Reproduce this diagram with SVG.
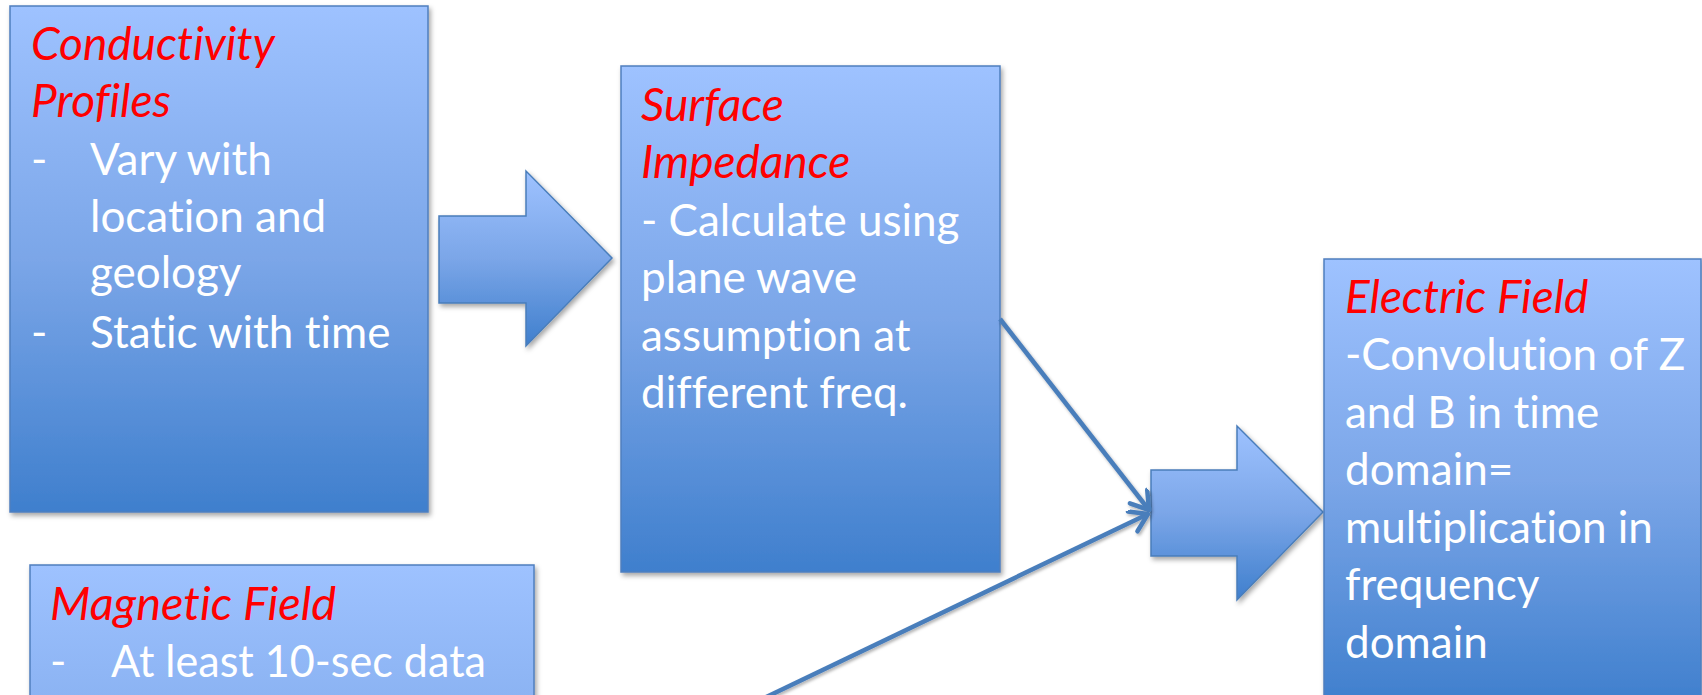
<svg xmlns="http://www.w3.org/2000/svg" width="1702" height="695" viewBox="0 0 1702 695">
  <defs>
    <linearGradient id="blueGrad" x1="0" y1="0" x2="0" y2="1">
      <stop offset="0" stop-color="#9EC2FF"/>
      <stop offset="0.5" stop-color="#7BA6E8"/>
      <stop offset="1" stop-color="#3F7FCD"/>
    </linearGradient>
    <filter id="shadow" x="-10%" y="-10%" width="120%" height="120%">
      <feDropShadow dx="2" dy="3" stdDeviation="2.5" flood-color="#000" flood-opacity="0.35"/>
    </filter>
    <filter id="lineShadow" x="-10%" y="-10%" width="120%" height="120%">
      <feDropShadow dx="1.5" dy="2" stdDeviation="1.5" flood-color="#000" flood-opacity="0.3"/>
    </filter>
    <marker id="openArrow" markerUnits="userSpaceOnUse" markerWidth="34" markerHeight="34" refX="21" refY="12" orient="auto">
      <path d="M 4 1 L 21 12 L 4 23" fill="none" stroke="#4A7EBB" stroke-width="4.5" stroke-linecap="round" stroke-linejoin="round"/>
    </marker>
  </defs>
  <style>
    .box { fill: url(#blueGrad); stroke: #4F7FBE; stroke-width: 1.5; filter: url(#shadow); }
    .blockArrow { fill: url(#blueGrad); stroke: #4A7EBB; stroke-width: 1.5; filter: url(#shadow); }
    text { font-family: Lato, "Open Sans", sans-serif; font-variant-ligatures: none; font-feature-settings: "liga" 0, "clig" 0; }
    .title { font-style: italic; font-size: 46px; fill: #FF0000; }
    .body { font-size: 44px; fill: #FFFFFF; }
    .conn { fill: none; stroke: #4A7EBB; stroke-width: 4.5; marker-end: url(#openArrow); }
  </style>

  <g id="conductivity-profiles">
    <rect class="box" x="10" y="6" width="418" height="506"/>
    <text class="title" x="31" y="60">Conductivity</text>
    <text class="title" x="31" y="117">Profiles</text>
    <text class="body" x="31" y="175">-</text>
    <text class="body" x="90" y="175">Vary with</text>
    <text class="body" x="90" y="232">location and</text>
    <text class="body" x="90" y="288">geology</text>
    <text class="body" x="31" y="348">-</text>
    <text class="body" x="90" y="348">Static with time</text>
  </g>

  <g id="arrow-1">
    <polygon class="blockArrow" points="439,216 526,216 526,171 612,258 526,346 526,303 439,303"/>
  </g>

  <g id="surface-impedance">
    <rect class="box" x="621" y="66" width="379" height="506"/>
    <text class="title" x="641" y="121">Surface</text>
    <text class="title" x="641" y="178">Impedance</text>
    <text class="body" x="641" y="236">- Calculate using</text>
    <text class="body" x="641" y="293">plane wave</text>
    <text class="body" x="641" y="351">assumption at</text>
    <text class="body" x="641" y="408">different freq.</text>
  </g>

  <g id="magnetic-field">
    <rect class="box" x="30" y="565" width="504" height="500"/>
    <text class="title" x="50" y="620" textLength="286" lengthAdjust="spacingAndGlyphs">Magnetic Field</text>
    <text class="body" x="50" y="677">-</text>
    <text class="body" x="111" y="677" textLength="375" lengthAdjust="spacingAndGlyphs">At least 10-sec data</text>
  </g>

  <g id="arrow-2">
    <polygon class="blockArrow" points="1151,470 1237,470 1237,426 1323,512 1237,600 1237,556 1151,556"/>
  </g>

  <g id="electric-field">
    <rect class="box" x="1324" y="259" width="377" height="445"/>
    <text class="title" x="1345" y="313">Electric Field</text>
    <text class="body" x="1345" y="370">-Convolution of Z</text>
    <text class="body" x="1345" y="428">and B in time</text>
    <text class="body" x="1345" y="485">domain=</text>
    <text class="body" x="1345" y="543">multiplication in</text>
    <text class="body" x="1345" y="600">frequency</text>
    <text class="body" x="1345" y="658">domain</text>
  </g>

  <g id="connectors" filter="url(#lineShadow)">
    <line class="conn" x1="1000" y1="319" x2="1149" y2="510"/>
    <line class="conn" x1="760" y1="700" x2="1148" y2="514"/>
  </g>
</svg>
